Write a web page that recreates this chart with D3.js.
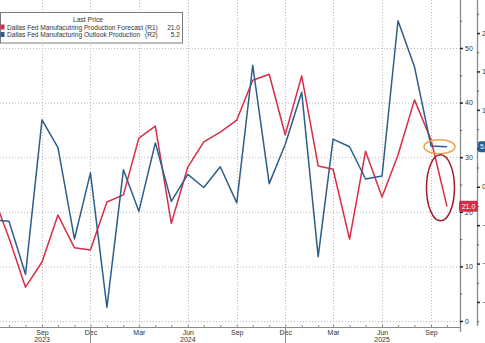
<!DOCTYPE html>
<html><head><meta charset="utf-8">
<script src="https://cdn.jsdelivr.net/npm/d3@7"></script>
<style>
html,body{margin:0;padding:0;background:#fff;}
svg{display:block;font-family:"Liberation Sans",Arial,sans-serif;}
</style></head>
<body><svg id="c" width="485" height="343"></svg>
<script>
// ---- data ----
const months = ["2023-06","2023-07","2023-08","2023-09","2023-10","2023-11","2023-12",
  "2024-01","2024-02","2024-03","2024-04","2024-05","2024-06","2024-07","2024-08","2024-09","2024-10","2024-11","2024-12",
  "2025-01","2025-02","2025-03","2025-04","2025-05","2025-06","2025-07","2025-08","2025-09","2025-10"];
const forecastR1 = [23.0,15.2,6.2,10.8,19.4,13.4,13.0,
  21.8,23.1,33.5,35.7,17.9,28.2,32.8,34.6,36.8,44.1,45.2,34.1,
  44.9,28.4,27.8,15.0,31.1,22.7,30.4,40.5,33.2,21.0];
const outlookR2 = [-4.3,-4.5,-11.4,8.7,5.1,-6.8,1.8,
  -15.7,2.2,-3.2,5.7,-1.9,1.6,-0.1,2.6,-2.1,15.8,0.4,5.5,
  12.3,-9.1,6.2,5.2,1.0,1.4,21.6,15.6,5.3,5.2];
const seriesNames = ["Dallas Fed Manufacutring Production Forecast","Dallas Fed Manufacturing Outlook Production"];
const seriesAxes = ["(R1)","(R2)"];
const lastValues = ["21.0","5.2"];
const legendTitle = "Last Price";
const r1Ticks = [0,10,20,30,40,50];
const r1Minor = [5,15,25,35,45,55];
const r2Ticks = [-15,-10,-5,0,5,10,15,20];
const r2HiddenLabels = [5]; // covered by the last-value tag
const r2Minor = [-17.5,-12.5,-7.5,-2.5,2.5,7.5,12.5,17.5,22.5];
const quarterTicks = ["2023-09","2023-12","2024-03","2024-06","2024-09","2024-12","2025-03","2025-06","2025-09"];
const yearLabels = [["2023","2023-09"],["2024","2024-06"],["2025","2025-06"]];
const yearDividers = ["2023-12","2024-12"];

const colors = {r1:"#d62e48", r2:"#2d5e8b", grid:"#b8b8b8", axis:"#8a8a8a", text:"#333"};
const parse = d3.timeParse("%Y-%m");
const dates = months.map(parse);

const svg = d3.select("#c");
const W = 485, H = 343;
const plotRight = 460, axisY = 327;

const x = d3.scaleTime().domain([parse("2023-09"), parse("2025-09")]).range([42, 431]);
const yR1 = d3.scaleLinear().domain([0, 50]).range([321, 48]);
const yR2 = d3.scaleLinear().domain([-15, 20]).range([302, 33]);

// clip
svg.append("defs").append("clipPath").attr("id","plot")
  .append("rect").attr("x",0).attr("y",0).attr("width",plotRight).attr("height",axisY);

// gridlines
const grid = svg.append("g");
grid.selectAll("line.h").data(r1Ticks).join("line")
  .attr("x1",0).attr("x2",plotRight).attr("y1",d=>yR1(d)+0.5).attr("y2",d=>yR1(d)+0.5)
  .attr("stroke",colors.grid).attr("stroke-width",1).attr("stroke-dasharray","1,2");
grid.selectAll("line.v").data(quarterTicks.map(parse)).join("line")
  .attr("x1",d=>Math.round(x(d))+0.5).attr("x2",d=>Math.round(x(d))+0.5).attr("y1",0).attr("y2",axisY)
  .attr("stroke",colors.grid).attr("stroke-width",1).attr("stroke-dasharray","1,2");

// lines
const g = svg.append("g").attr("clip-path","url(#plot)");
const lineR1 = d3.line().x((d,i)=>x(dates[i])).y(d=>yR1(d));
const lineR2 = d3.line().x((d,i)=>x(dates[i])).y(d=>yR2(d));
g.append("path").datum(forecastR1).attr("d",lineR1).attr("fill","none")
  .attr("stroke",colors.r1).attr("stroke-width",1.5).attr("stroke-linejoin","round");
g.append("path").datum(outlookR2).attr("d",lineR2).attr("fill","none")
  .attr("stroke",colors.r2).attr("stroke-width",1.5).attr("stroke-linejoin","round");

// bottom axis
svg.append("line").attr("x1",0).attr("x2",plotRight).attr("y1",axisY+0.5).attr("y2",axisY+0.5)
  .attr("stroke",colors.axis).attr("stroke-width",1);
const xMinor = svg.append("g").attr("transform",`translate(0,${axisY})`)
  .call(d3.axisBottom(x).tickValues(dates).tickSize(-2).tickFormat(""));
xMinor.select(".domain").remove();
xMinor.selectAll("line").attr("stroke",colors.axis);
const xAx = svg.append("g").attr("transform",`translate(0,${axisY})`)
  .call(d3.axisBottom(x).tickValues(quarterTicks.map(parse)).tickSize(0).tickPadding(3).tickFormat(d3.timeFormat("%b")));
xAx.select(".domain").remove();
xAx.selectAll("text").attr("fill",colors.text).style("font-size","7px").style("font-family","Liberation Sans, Arial, sans-serif");
svg.selectAll("text.yr").data(yearLabels).join("text").attr("class","yr")
  .attr("x",d=>x(parse(d[1]))).attr("y",342).attr("text-anchor","middle")
  .attr("fill",colors.text).style("font-size","7px").text(d=>d[0]);
svg.selectAll("line.yd").data(yearDividers).join("line")
  .attr("x1",d=>Math.round(x(parse(d)))+0.5).attr("x2",d=>Math.round(x(parse(d)))+0.5)
  .attr("y1",axisY).attr("y2",H).attr("stroke",colors.axis).attr("stroke-width",1);

// R1 axis
const r1x = 460;
svg.append("line").attr("x1",r1x+0.5).attr("x2",r1x+0.5).attr("y1",0).attr("y2",332)
  .attr("stroke",colors.axis).attr("stroke-width",1.3);
const aR1 = svg.append("g").attr("transform",`translate(${r1x},0)`)
  .call(d3.axisRight(yR1).tickValues(r1Ticks).tickSize(3).tickPadding(2));
aR1.select(".domain").remove();
aR1.selectAll("line").attr("stroke","#222").attr("stroke-width",1.5);
aR1.selectAll("text").attr("fill",colors.text).style("font-size","7px").style("font-family","Liberation Sans, Arial, sans-serif");
const mR1 = svg.append("g").attr("transform",`translate(${r1x},0)`)
  .call(d3.axisRight(yR1).tickValues(r1Minor).tickSize(2).tickFormat(""));
mR1.select(".domain").remove();
mR1.selectAll("line").attr("stroke","#555");

// R2 axis
const r2x = 477;
svg.append("line").attr("x1",r2x+0.5).attr("x2",r2x+0.5).attr("y1",0).attr("y2",326)
  .attr("stroke",colors.axis).attr("stroke-width",1.3);
const aR2 = svg.append("g").attr("transform",`translate(${r2x},0)`)
  .call(d3.axisRight(yR2).tickValues(r2Ticks).tickSize(3).tickPadding(2)
    .tickFormat(d => r2HiddenLabels.includes(d) ? "" : d3.format("d")(d)));
aR2.select(".domain").remove();
aR2.selectAll("line").attr("stroke","#222").attr("stroke-width",1.5);
aR2.selectAll("text").attr("fill",colors.text).style("font-size","7px").style("font-family","Liberation Sans, Arial, sans-serif");
const mR2 = svg.append("g").attr("transform",`translate(${r2x},0)`)
  .call(d3.axisRight(yR2).tickValues(r2Minor).tickSize(2).tickFormat(""));
mR2.select(".domain").remove();
mR2.selectAll("line").attr("stroke","#555");

// last value labels
const lastR1 = forecastR1[forecastR1.length-1], lastR2 = outlookR2[outlookR2.length-1];
svg.append("rect").attr("x",459).attr("y",yR1(lastR1)-5.5).attr("width",19).attr("height",11).attr("rx",1.5)
  .attr("fill",colors.r1);
svg.append("text").attr("x",468.5).attr("y",yR1(lastR1)+2.5).attr("text-anchor","middle")
  .attr("fill","#fff").style("font-size","7px").text(lastValues[0]);
svg.append("rect").attr("x",478).attr("y",yR2(lastR2)-5.5).attr("width",16).attr("height",11).attr("rx",2)
  .attr("fill",colors.r2);
svg.append("text").attr("x",480).attr("y",yR2(lastR2)+2.5).attr("text-anchor","start")
  .attr("fill","#fff").style("font-size","7px").text(lastValues[1]);

// annotations
const nn = dates.length;
const midX = (x(dates[nn-2]) + x(dates[nn-1]))/2;
svg.append("ellipse").attr("cx",midX+0.5).attr("cy",yR2(lastR2)).attr("rx",15.5).attr("ry",7)
  .attr("fill","none").attr("stroke","#eaa548").attr("stroke-width",1.5);
svg.append("ellipse").attr("cx",midX+1.5).attr("cy",yR1(24.4)).attr("rx",14).attr("ry",33)
  .attr("fill","none").attr("stroke","#a01c2c").attr("stroke-width",1.5);

// legend
const lg = svg.append("g");
lg.append("rect").attr("x",0.5).attr("y",12.5).attr("width",182).attr("height",30.5)
  .attr("fill","#fff").attr("fill-opacity",0.9).attr("stroke","#7a7a7a").attr("stroke-width",1);
lg.append("text").attr("x",88).attr("y",22).attr("text-anchor","middle")
  .attr("fill",colors.text).style("font-size","6.8px").text(legendTitle);
const rows = [0,1];
lg.selectAll("rect.sw").data(rows).join("rect").attr("class","sw")
  .attr("x",0.5).attr("y",i=>24.5+i*7.5).attr("width",4).attr("height",5)
  .attr("fill",i=>i===0?colors.r1:colors.r2);
lg.selectAll("text.nm").data(rows).join("text").attr("class","nm")
  .attr("x",7).attr("y",i=>29.5+i*7.5).attr("fill",colors.text).style("font-size","6.6px")
  .text(i=>seriesNames[i]);
lg.selectAll("text.ax").data(rows).join("text").attr("class","ax")
  .attr("x",145).attr("y",i=>29.5+i*7.5).attr("fill",colors.text).style("font-size","6.6px")
  .text(i=>seriesAxes[i]);
lg.selectAll("text.lv").data(rows).join("text").attr("class","lv")
  .attr("x",180).attr("y",i=>29.5+i*7.5).attr("text-anchor","end").attr("fill",colors.text).style("font-size","6.6px")
  .text(i=>lastValues[i]);
</script></body></html>
